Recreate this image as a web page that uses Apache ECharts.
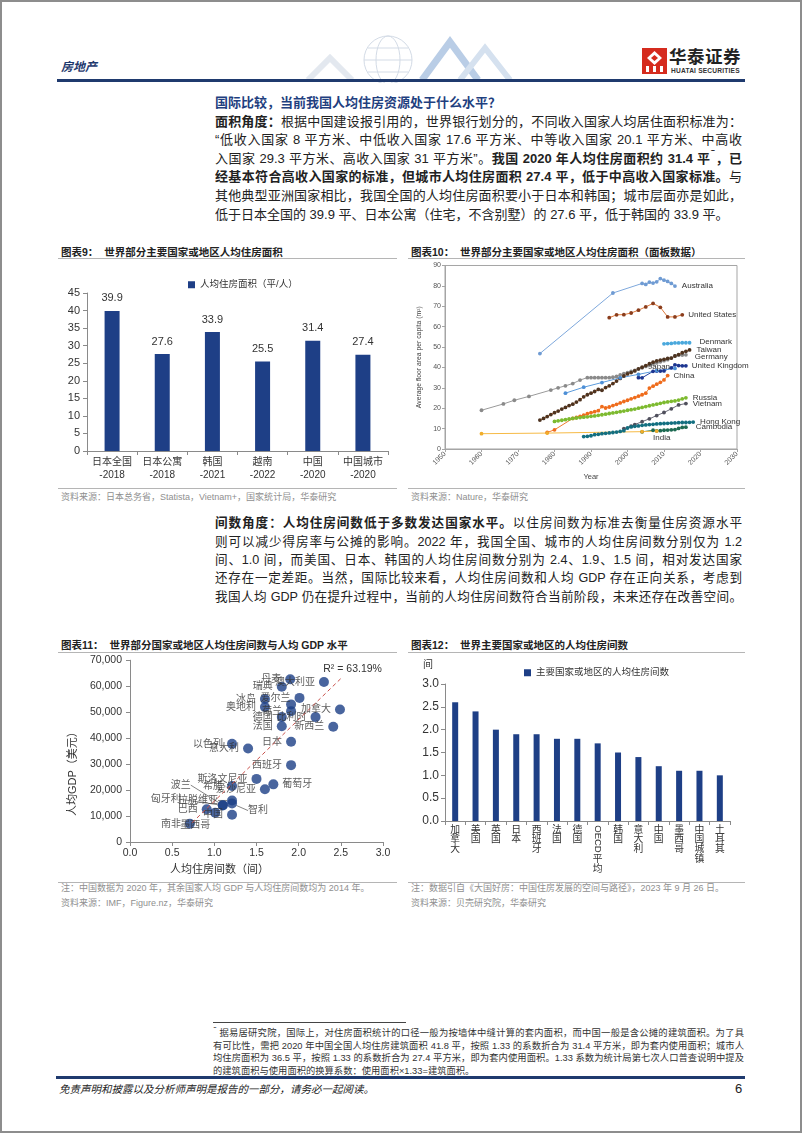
<!DOCTYPE html>
<html><head><meta charset="utf-8">
<script src="https://cdn.jsdelivr.net/npm/echarts@6/dist/echarts.min.js"></script>
<style>
html,body{margin:0;padding:0;background:#fff;}
body{width:802px;height:1133px;position:relative;overflow:hidden;font-family:"Liberation Sans","Noto Sans CJK SC",sans-serif;color:#222;}
.frame{position:absolute;left:0;top:0;width:798px;height:1129px;border:2px solid #8d8d8d;}
.ab{position:absolute;white-space:nowrap;}
.pl{position:absolute;left:215px;width:527px;height:18px;line-height:18px;font-size:13px;text-align:justify;text-align-last:justify;overflow:hidden;}
.pl.p2{font-size:12.6px;}
.pl.last{text-align:left;text-align-last:left;}
.fn{position:absolute;left:213px;width:531px;height:13px;line-height:13px;font-size:9.3px;text-align:justify;text-align-last:justify;overflow:hidden;color:#333;}
.fn.last{text-align:left;text-align-last:left;}
b{font-weight:700;}
.ctitle{position:absolute;font-size:10.5px;font-weight:700;color:#222;white-space:nowrap;line-height:14px;}
.hr{position:absolute;height:1px;background:#b5b5b5;}
.src{position:absolute;font-size:9px;color:#8f8f8f;white-space:nowrap;line-height:12px;}
.chart{position:absolute;}
sup{font-size:8px;line-height:0;position:relative;top:-1px;vertical-align:top;}
</style></head>
<body>
<div class="frame"></div>
<!-- header decoration -->
<svg class="ab" style="left:300px;top:28px" width="220" height="55">
  <g fill="none" stroke="#d3dbe6" stroke-width="1">
    <circle cx="88" cy="32" r="24"/>
    <ellipse cx="88" cy="32" rx="12" ry="24"/>
    <line x1="64" y1="32" x2="112" y2="32"/>
    <line x1="68" y1="20" x2="108" y2="20"/>
    <line x1="68" y1="44" x2="108" y2="44"/>
  </g>
  <polyline points="8,52 30,30 52,52" fill="none" stroke="#e3e8ef" stroke-width="6"/>
  <polyline points="122,52 150,14 178,52" fill="none" stroke="#b9cde6" stroke-width="7"/>
  <polyline points="160,52 185,20 210,52" fill="none" stroke="#d5e1ef" stroke-width="6"/>
</svg>
<div class="ab" style="left:61px;top:59px;font-size:12px;font-weight:700;font-style:italic;color:#1f3a6e;line-height:16px;">房地产</div>
<svg class="ab" style="left:642px;top:48px" width="25" height="26">
  <rect x="0" y="0" width="25" height="26" fill="#d52b1e"/>
  <path d="M12.5 3 L20 10 L12.5 17 L5 10 Z" fill="#fff"/>
  <path d="M12.5 7 L16 10 L12.5 13 L9 10 Z" fill="#d52b1e"/>
  <rect x="4" y="18" width="3" height="6" fill="#fff"/>
  <rect x="11" y="18" width="3" height="6" fill="#fff"/>
  <rect x="18" y="18" width="3" height="6" fill="#fff"/>
</svg>
<div class="ab" style="left:669px;top:47px;font-size:17.5px;font-weight:700;color:#222;line-height:20px;letter-spacing:0.5px;">华泰证券</div>
<div class="ab" style="left:671px;top:67px;font-size:6.6px;font-weight:700;color:#333;line-height:8px;letter-spacing:0.2px;">HUATAI SECURITIES</div>
<div class="ab" style="left:57px;top:79px;width:688px;height:3px;background:#1f3a6e;"></div>

<!-- paragraph 1 -->
<div class="pl last" style="top:93.5px;font-weight:700;color:#1f3f7f;">国际比较，当前我国人均住房资源处于什么水平？</div>
<div class="pl" style="top:112.5px;"><b>面积角度：</b>根据中国建设报引用的，世界银行划分的，不同收入国家人均居住面积标准为：</div>
<div class="pl" style="top:131px;">“低收入国家 8 平方米、中低收入国家 17.6 平方米、中等收入国家 20.1 平方米、中高收</div>
<div class="pl" style="top:149.5px;">入国家 29.3 平方米、高收入国家 31 平方米”。<b>我国 2020 年人均住房面积约 31.4 平<sup>1</sup>，已</b></div>
<div class="pl" style="top:168px;"><b>经基本符合高收入国家的标准，但城市人均住房面积 27.4 平，低于中高收入国家标准。</b>与</div>
<div class="pl" style="top:187px;">其他典型亚洲国家相比，我国全国的人均住房面积要小于日本和韩国；城市层面亦是如此，</div>
<div class="pl last" style="top:206px;">低于日本全国的 39.9 平、日本公寓（住宅，不含别墅）的 27.6 平，低于韩国的 33.9 平。</div>

<!-- chart 9 / 10 titles -->
<div class="ctitle" style="left:61px;top:245px;">图表9：&nbsp;&nbsp;世界部分主要国家或地区人均住房面积</div>
<div class="hr" style="left:58px;top:258px;width:339px;"></div>
<div class="ctitle" style="left:411px;top:245px;">图表10：&nbsp;&nbsp;世界部分主要国家或地区人均住房面积（面板数据）</div>
<div class="hr" style="left:408px;top:258px;width:337px;"></div>
<div id="c9" class="chart" style="left:59px;top:262px;width:338px;height:224px;"></div>
<div id="c10" class="chart" style="left:405px;top:262px;width:356px;height:224px;"></div>
<div class="hr" style="left:58px;top:488px;width:339px;"></div>
<div class="hr" style="left:408px;top:488px;width:337px;"></div>
<div class="src" style="left:61px;top:491px;">资料来源：日本总务省，Statista，Vietnam+，国家统计局，华泰研究</div>
<div class="src" style="left:411px;top:491px;">资料来源：Nature，华泰研究</div>

<!-- paragraph 2 -->
<div class="pl p2" style="top:514.3px;"><b>间数角度：人均住房间数低于多数发达国家水平。</b>以住房间数为标准去衡量住房资源水平</div>
<div class="pl p2" style="top:532.6px;">则可以减少得房率与公摊的影响。2022 年，我国全国、城市的人均住房间数分别仅为 1.2</div>
<div class="pl p2" style="top:550.9px;">间、1.0 间，而美国、日本、韩国的人均住房间数分别为 2.4、1.9、1.5 间，相对发达国家</div>
<div class="pl p2" style="top:569.2px;">还存在一定差距。当然，国际比较来看，人均住房间数和人均 GDP 存在正向关系，考虑到</div>
<div class="pl p2" style="top:587.5px;">我国人均 GDP 仍在提升过程中，当前的人均住房间数符合当前阶段，未来还存在改善空间。</div>

<!-- chart 11 / 12 -->
<div class="ctitle" style="left:61px;top:638px;">图表11：&nbsp;&nbsp;世界部分国家或地区人均住房间数与人均 GDP 水平</div>
<div class="hr" style="left:58px;top:652px;width:339px;"></div>
<div class="ctitle" style="left:411px;top:638px;">图表12：&nbsp;&nbsp;世界主要国家或地区的人均住房间数</div>
<div class="hr" style="left:408px;top:652px;width:337px;"></div>
<div id="c11" class="chart" style="left:59px;top:655px;width:338px;height:225px;"></div>
<div id="c12" class="chart" style="left:405px;top:655px;width:340px;height:225px;"></div>
<div class="hr" style="left:58px;top:882px;width:339px;"></div>
<div class="hr" style="left:408px;top:882px;width:337px;"></div>
<div class="src" style="left:61px;top:882px;">注：中国数据为 2020 年，其余国家人均 GDP 与人均住房间数均为 2014 年。</div>
<div class="src" style="left:61px;top:897px;">资料来源：IMF，Figure.nz，华泰研究</div>
<div class="src" style="left:411px;top:882px;">注：数据引自《大国好房：中国住房发展的空间与路径》，2023 年 9 月 26 日。</div>
<div class="src" style="left:411px;top:897px;">资料来源：贝壳研究院，华泰研究</div>

<!-- footnote -->
<div class="ab" style="left:213px;top:1022px;width:193px;height:1px;background:#444;"></div>
<div class="fn" style="top:1027px;"><sup style="font-size:6.5px;">1</sup> 据易居研究院，国际上，对住房面积统计的口径一般为按墙体中缝计算的套内面积，而中国一般是含公摊的建筑面积。为了具</div>
<div class="fn" style="top:1039.5px;">有可比性，需把 2020 年中国全国人均住房建筑面积 41.8 平，按照 1.33 的系数折合为 31.4 平方米，即为套内使用面积；城市人</div>
<div class="fn" style="top:1052px;">均住房面积为 36.5 平，按照 1.33 的系数折合为 27.4 平方米，即为套内使用面积。1.33 系数为统计局第七次人口普查说明中提及</div>
<div class="fn last" style="top:1064.5px;">的建筑面积与使用面积的换算系数：使用面积×1.33=建筑面积。</div>
<div class="ab" style="left:56px;top:1076px;width:689px;height:2.5px;background:#1f3a6e;"></div>
<div class="ab" style="left:59px;top:1082px;font-size:10.5px;font-style:italic;color:#222;line-height:14px;">免责声明和披露以及分析师声明是报告的一部分，请务必一起阅读。</div>
<div class="ab" style="left:735px;top:1081px;font-size:13px;color:#222;line-height:16px;">6</div>

<script>
// ---------------- Chart 9 data ----------------
const c9Categories = ['日本全国\n-2018','日本公寓\n-2018','韩国\n-2021','越南\n-2022','中国\n-2020','中国城市\n-2020'];
const c9Values = [39.9, 27.6, 33.9, 25.5, 31.4, 27.4];
const c9Legend = '人均住房面积（平/人）';

// ---------------- Chart 10 data (year, m² per capita) ----------------
const c10Years = [1950, 2030];
const australia = [[1976,46.8],[1996,76.5],[2004,81.2],[2005,80.7],[2006,81.8],[2007,81.4],[2008,82],[2009,83.6],[2010,82.8],[2011,82.2],[2012,81.2],[2013,79.9]];
const unitedStates = [[1995,64.4],[1997,65.8],[1999,65.9],[2001,66.7],[2003,68.1],[2005,69.7],[2007,71.4],[2009,69.5],[2011,64.8],[2013,64.8],[2015,65.8]];
const denmark = [[2010,51.6],[2011,51.7],[2012,51.8],[2013,52],[2014,52],[2015,52.1],[2016,52.1],[2017,52.1]];
const taiwan = [[1976,14.2],[1977,15],[1978,15.9],[1979,16.9],[1980,17.8],[1981,18.6],[1982,19.6],[1983,20.4],[1984,21.3],[1985,22],[1986,23],[1987,24.2],[1988,25.6],[1989,26.6],[1990,27.4],[1991,28.2],[1992,29.2],[1993,28.8],[1994,30.1],[1995,31],[1996,32.1],[1997,33.3],[1998,34.6],[1999,35.8],[2000,36.8],[2001,37.5],[2002,38.3],[2003,39.3],[2004,40.1],[2005,40.9],[2006,41.8],[2007,42.6],[2008,43.2],[2009,43.6],[2010,44],[2011,44.4],[2012,44.6],[2013,45.6],[2014,46.3],[2015,47.2],[2016,47.9],[2017,48.6]];
const germany = [[1960,19],[1966,22.1],[1969,23.9],[1973,25.8],[1979,28.9],[1981,30],[1983,31],[1985,32.1],[1987,33.8],[1989,35],[1990,35],[1991,35],[1992,35],[1993,35],[1994,35],[1995,35],[1996,35.2],[1997,35.6],[1998,36.3],[1999,37],[2000,37.5],[2001,38],[2002,38.6],[2003,39.2],[2004,39.8],[2005,40.5],[2006,41.1],[2007,41.8],[2008,42.2],[2009,42.8],[2010,43.3],[2011,43.8],[2012,44.6],[2013,45.6],[2014,46],[2015,46.1],[2016,46.2]];
const unitedKingdom = [[2003,35],[2004,34.9],[2007,38.1],[2008,38.2],[2009,38.2],[2010,38.3],[2012,39.8],[2013,41.3],[2014,40.9],[2015,40.8],[2016,40.8]];
const japan = [[1983,27.4],[1988,30.3],[1993,32.6],[1998,34.9],[2003,36.6],[2008,38.4],[2013,39.5]];
const china = [[1978,8.1],[1980,9.4],[1985,15],[1986,15.5],[1987,16],[1988,16.6],[1989,17.3],[1990,17.8],[1991,18.3],[1992,18.8],[1993,20.8],[1994,20.1],[1995,20.6],[1996,21.3],[1997,21.9],[1998,22.6],[1999,23.3],[2000,23.9],[2001,24.6],[2002,25.2],[2003,25.9],[2004,26.6],[2005,27.4],[2006,29.9],[2007,30.8],[2008,31.8],[2009,32.7],[2010,33.9],[2011,36]];
const russia = [[1980,13.5],[1981,13.8],[1982,14.1],[1983,14.4],[1984,14.7],[1985,15],[1986,15.2],[1987,15.4],[1988,15.6],[1989,15.8],[1990,16],[1991,16.2],[1992,16.5],[1993,16.8],[1994,17.1],[1995,17.4],[1996,17.7],[1997,18],[1998,18.3],[1999,18.6],[2000,19],[2001,19.3],[2002,19.6],[2003,20],[2004,20.4],[2005,20.8],[2006,21.2],[2007,21.6],[2008,22],[2009,22.4],[2010,22.8],[2011,23.1],[2012,23.4],[2013,23.6],[2014,24],[2015,24.6],[2016,25.1]];
const vietnam = [[1999,10],[2001,11.2],[2002,12],[2004,13.4],[2006,14.8],[2008,16.4],[2010,17.9],[2012,19.7],[2014,21.6],[2016,22.3]];
const hongKong = [[1988,6.1],[1989,6.2],[1990,6.5],[1991,7],[1992,7.2],[1993,7.5],[1994,7.7],[1995,7.9],[1996,8.1],[1997,8.3],[1998,8.6],[1999,9],[2000,10.3],[2001,10.8],[2002,11.1],[2003,11.3],[2004,11.6],[2005,11.8],[2006,12],[2007,12.1],[2008,12.3],[2009,12.4],[2010,12.5],[2011,12.6],[2012,12.7],[2013,12.8],[2014,12.9],[2015,13],[2016,13],[2017,13.1],[2018,13.2]];
const cambodia = [[2004,8.4],[2007,9.2],[2008,8.9],[2009,9],[2010,9.2],[2011,9.3],[2012,9.4],[2013,9.5],[2014,10.1],[2015,10.6],[2016,10.7]];
const india = [[1960,7.5],[1978,7.8],[2004,8.5],[2008,8.8]];

// ---------------- Chart 11 data ----------------
const c11Names = ['丹麦','澳大利亚','瑞典','冰岛','爱尔兰','','奥地利','荷兰','加拿大','德国','比利时','法国','新西兰','日本','以色列','意大利','西班牙','斯洛文尼亚','希腊','爱沙尼亚','葡萄牙','拉脱维亚','智利','波兰','匈牙利','巴西','墨西哥','中国','南非'];
const c11Rooms = [1.90,2.30,1.80,1.60,2.01,1.91,1.60,1.91,2.49,1.80,2.20,1.80,2.41,1.91,1.21,1.40,1.91,1.50,1.21,1.60,1.70,1.21,1.21,1.10,1.10,0.91,1.01,1.21,0.71];
const c11Gdp = [62700,61600,59800,55100,55500,53000,52000,50400,51000,48100,48100,44600,44400,38600,37800,36000,29600,24300,21600,20300,22200,16000,14800,14200,14100,12600,11300,10500,7000];
const c11Trend = [[0.735,7400],[2.505,63100]];
const c11R2 = 'R² = 63.19%';

// ---------------- Chart 12 data ----------------
const c12Categories = ['加拿大','美国','英国','日本','西班牙','法国','德国','OECD平均','韩国','意大利','中国','墨西哥','中国城镇','土耳其'];
const c12Values = [2.6,2.4,2.0,1.9,1.9,1.8,1.8,1.7,1.5,1.4,1.2,1.1,1.1,1.0];
const c12Legend = '主要国家或地区的人均住房间数';

const NAVY = '#1e3f86';
const FONT = '"Liberation Sans","Noto Sans CJK SC",sans-serif';

// ---------------- Chart 9 ----------------
const ch9 = echarts.init(document.getElementById('c9'), null, {renderer:'canvas'});
ch9.setOption({
  animation:false,
  textStyle:{fontFamily:FONT},
  legend:{data:[c9Legend], top:13, left:124, icon:'rect', itemWidth:7, itemHeight:7, itemGap:4,
    textStyle:{fontSize:9.5, color:'#333', fontFamily:FONT}},
  grid:{left:28, right:9, top:31, bottom:35},
  xAxis:{type:'category', data:c9Categories,
    axisLine:{lineStyle:{color:'#8a8a8a'}}, axisTick:{show:true, length:4, lineStyle:{color:'#8a8a8a'}},
    axisLabel:{fontSize:10, color:'#333', margin:5, lineHeight:13, interval:0}},
  yAxis:{type:'value', min:0, max:45, interval:5,
    axisLine:{show:true, lineStyle:{color:'#8a8a8a'}}, axisTick:{show:true, length:4, lineStyle:{color:'#8a8a8a'}},
    splitLine:{show:false}, axisLabel:{fontSize:11, color:'#333', margin:7}},
  series:[{type:'bar', name:c9Legend, data:c9Values, barWidth:15, itemStyle:{color:NAVY},
    label:{show:true, position:'top', fontSize:11, color:'#333', distance:7}}]
});

// ---------------- Chart 10 ----------------
const c10Defs = [
  {name:'Australia', data:australia, line:'#7ea8dc', mark:'#6f9bd3', pos:'right', dist:5},
  {name:'United States', data:unitedStates, line:'#e07a3c', mark:'#8a3d1c', pos:'right', dist:4},
  {name:'Denmark', data:denmark, line:'#5cb8e6', mark:'#4aa8dc', pos:'right', dist:8, dash:true, off:[0,-1]},
  {name:'Germany', data:germany, line:'#9a9a9a', mark:'#8a8a8a', pos:'right', dist:7, off:[0,2]},
  {name:'Taiwan', data:taiwan, line:'#d0702e', mark:'#4d3320', pos:'right', dist:5, off:[0,0]},
  {name:'United Kingdom', data:unitedKingdom, line:'#24409c', mark:'#1c3590', pos:'right', dist:4},
  {name:'Japan', data:japan, line:'#5b9bdc', mark:'#4d8fd6', pos:'left', dist:3, off:[0,-2]},
  {name:'China', data:china, line:'#f07a2c', mark:'#ef6c1c', pos:'right', dist:4},
  {name:'Russia', data:russia, line:'#8cc63f', mark:'#7dba2f', pos:'right', dist:5},
  {name:'Vietnam', data:vietnam, line:'#6a6a78', mark:'#4f4f5c', pos:'right', dist:5},
  {name:'Hong Kong', data:hongKong, line:'#1a7f90', mark:'#136f80', pos:'right', dist:5},
  {name:'Cambodia', data:cambodia, line:'#2a7a62', mark:'#1d6a52', pos:'right', dist:8},
  {name:'India', data:india, line:'#f6ba45', mark:'#f0ad2a', pos:'bottom', dist:1, off:[5,0]}
];
const ch10 = echarts.init(document.getElementById('c10'));
ch10.setOption({
  animation:false,
  textStyle:{fontFamily:FONT},
  grid:{left:40, right:24, top:3, bottom:30, show:true, borderColor:'#a5a5a5', borderWidth:1},
  xAxis:{type:'value', min:c10Years[0], max:c10Years[1], interval:10,
    name:'Year', nameLocation:'middle', nameGap:21, nameTextStyle:{fontSize:7.5, color:'#444'},
    axisLine:{lineStyle:{color:'#a5a5a5'}}, axisTick:{show:true, length:3, lineStyle:{color:'#a5a5a5'}},
    splitLine:{show:false}, axisLabel:{fontSize:7, color:'#555', rotate:45, margin:4, formatter:v=>String(v)}},
  yAxis:{type:'value', min:0, max:90, interval:10,
    name:'Average floor area per capita (m²)', nameLocation:'middle', nameGap:16, nameTextStyle:{fontSize:6.8, color:'#444'},
    axisLine:{show:true, lineStyle:{color:'#a5a5a5'}}, axisTick:{show:true, length:3, lineStyle:{color:'#a5a5a5'}},
    splitLine:{show:false}, axisLabel:{fontSize:7, color:'#555', margin:4}},
  series:c10Defs.map(s => ({
    type:'line', name:s.name, symbol:'circle', symbolSize:3.8, showSymbol:true,
    lineStyle:{color:s.line, width:1, type: s.dash ? [2,2] : 'solid'},
    itemStyle:{color:s.mark},
    data:s.data.map((d,i) => i === s.data.length-1
      ? {value:d, label:{show:true, position:s.pos, distance:s.dist, offset:s.off||[0,0], formatter:s.name, fontSize:8, color:'#333'}}
      : d)
  }))
});

// ---------------- Chart 11 ----------------
const c11Tweak = {
  '葡萄牙':{pos:'right'},
  '智利':{pos:'right', dx:7, dy:7, line:true},
  '波兰':{dx:-23, dy:-20, line:true},
  '匈牙利':{dx:-33, dy:-6, line:true},
  '拉脱维亚':{dist:9, line:true},
  '墨西哥':{pos:'bottom', dx:-20, dy:-1}
};
const ch11 = echarts.init(document.getElementById('c11'));
ch11.setOption({
  animation:false,
  textStyle:{fontFamily:FONT},
  grid:{left:66, right:14, top:4, bottom:32},
  xAxis:{type:'value', min:0, max:3, interval:0.5,
    name:'人均住房间数（间）', nameLocation:'middle', nameGap:22,
    nameTextStyle:{fontSize:11, color:'#333', padding:[0,74,0,0]},
    axisLine:{lineStyle:{color:'#8a8a8a'}}, axisTick:{show:true, length:4, lineStyle:{color:'#8a8a8a'}},
    splitLine:{show:false}, axisLabel:{fontSize:10.5, color:'#333', margin:6, formatter:v=>v.toFixed(1)}},
  yAxis:{type:'value', min:0, max:70000, interval:10000,
    name:'人均GDP（美元）', nameLocation:'middle', nameGap:52,
    nameTextStyle:{fontSize:11, color:'#333', padding:[0,40,0,0]},
    axisLine:{show:true, lineStyle:{color:'#8a8a8a'}}, axisTick:{show:true, length:4, lineStyle:{color:'#8a8a8a'}},
    splitLine:{show:false}, axisLabel:{fontSize:10.5, color:'#333', margin:8,
      formatter:v=>v.toLocaleString('en-US')}},
  series:[
    {type:'scatter', symbolSize:10, itemStyle:{color:'#1b3e86'},
     labelLine:{show:false, lineStyle:{color:'#666', width:0.8}},
     labelLayout:function(p){ const t = c11Tweak[c11Names[p.dataIndex]]; return t ? {dx:t.dx||0, dy:t.dy||0} : {dx:0, dy:0}; },
     data:c11Names.map((n,i) => {
       const t = c11Tweak[n] || {};
       return {value:[c11Rooms[i], c11Gdp[i]], name:n,
         label:{show:n !== '', position:t.pos||'left', distance:t.dist||4, formatter:n, fontSize:10, color:'#333'},
         labelLine:{show:!!t.line, lineStyle:{color:'#666', width:0.8}}};
     })},
    {type:'line', data:c11Trend, symbol:'none', lineStyle:{color:'#c8504a', width:1, type:[4,3]},
     endLabel:{show:true, formatter:c11R2, fontSize:10.5, color:'#333', distance:0, offset:[-18,-9]}}
  ]
});

// ---------------- Chart 12 ----------------
const ch12 = echarts.init(document.getElementById('c12'));
ch12.setOption({
  animation:false,
  textStyle:{fontFamily:FONT},
  legend:{data:[c12Legend], top:8, left:114, icon:'rect', itemWidth:7, itemHeight:7, itemGap:4,
    textStyle:{fontSize:9.5, color:'#333', fontFamily:FONT}},
  grid:{left:40, right:15, top:29, bottom:59},
  xAxis:{type:'category', data:c12Categories,
    axisLine:{lineStyle:{color:'#8a8a8a'}}, axisTick:{show:true, length:4, lineStyle:{color:'#8a8a8a'}},
    axisLabel:{interval:0, fontSize:9.8, color:'#333', margin:4, lineHeight:9.8,
      formatter:n => n === 'OECD平均' ? '\n\n\n平\n均' : n.split('').join('\n')}},
  yAxis:{type:'value', min:0, max:3, interval:0.5,
    name:'间', nameLocation:'end', nameGap:14,
    nameTextStyle:{fontSize:10, color:'#333', align:'right', padding:[0,12,0,0]},
    axisLine:{show:true, lineStyle:{color:'#8a8a8a'}}, axisTick:{show:true, length:4, lineStyle:{color:'#8a8a8a'}},
    splitLine:{show:false}, axisLabel:{fontSize:12, color:'#333', margin:6, formatter:v=>v.toFixed(1)}},
  series:[{type:'bar', name:c12Legend, data:c12Values, barWidth:6, itemStyle:{color:NAVY}}]
});
const oecdX = ch12.convertToPixel({xAxisIndex:0}, 'OECD平均');
const baseY = ch12.convertToPixel({yAxisIndex:0}, 0);
ch12.setOption({graphic:[{type:'text', x:oecdX, y:baseY+18, rotation:-Math.PI/2,
  style:{text:'OECD', fontSize:9.5, fill:'#333', align:'center', verticalAlign:'middle', fontFamily:FONT}}]});
</script>
</body></html>
